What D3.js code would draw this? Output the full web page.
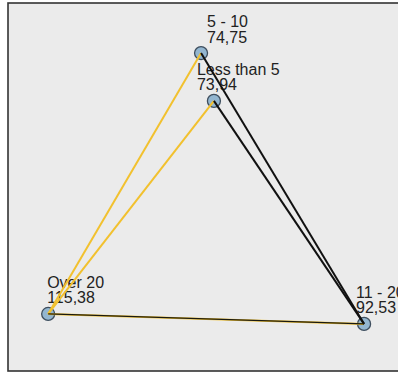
<!DOCTYPE html>
<html>
<head>
<meta charset="utf-8">
<script src="https://cdn.jsdelivr.net/npm/d3@7"></script>
<style>
  html, body { margin: 0; padding: 0; background: #fff; }
  svg { display: block; }
</style>
</head>
<body>
<div id="chart"></div>
<script>
// nodes of the relation map
const categories = ["5 - 10", "Less than 5", "Over 20", "11 - 20"];
const values = ["74,75", "73,94", "115,38", "92,53"];
// node placement on a 0..100 grid
const nodeX = [49.5, 52.8, 10.3, 91.3];
const nodeY = [13.6, 26.6, 84.5, 87.2];
// links between nodes: [from, to, kind]
const links = [
    ["Over 20", "5 - 10", "yellow"],
    ["Over 20", "Less than 5", "yellow"],
    ["Over 20", "11 - 20", "yellow"],
    ["5 - 10", "11 - 20", "black"],
    ["Less than 5", "11 - 20", "black"],
    ["Over 20", "11 - 20", "thin"]
];

const W = 398, H = 374;
const frame = { left: 8, top: 3, right: 420, bottom: 371 };

const svg = d3.select("#chart").append("svg")
    .attr("width", W)
    .attr("height", H);

svg.append("rect")
    .attr("x", frame.left)
    .attr("y", frame.top)
    .attr("width", frame.right - frame.left)
    .attr("height", frame.bottom - frame.top)
    .attr("fill", "#ebebeb")
    .attr("stroke", "#333")
    .attr("stroke-width", 1.6);

const x = d3.scaleLinear().domain([0, 100]).range([frame.left, 398]);
const y = d3.scaleLinear().domain([0, 100]).range([frame.top, frame.bottom]);

const nodes = categories.map((c, i) => ({ name: c, value: values[i], x: nodeX[i], y: nodeY[i] }));
const byName = {};
nodes.forEach(n => byName[n.name] = n);

// label offsets (pixels) relative to node
const labelDx = { "5 - 10": 6, "Less than 5": -17, "Over 20": -1, "11 - 20": -8 };

const lbl = svg.append("g")
    .style("font-family", "'Liberation Sans', Arial, sans-serif")
    .style("font-size", "16px")
    .attr("fill", "#222");

nodes.forEach(n => {
    const t = lbl.append("text")
        .attr("x", x(n.x) + labelDx[n.name])
        .attr("y", y(n.y) - 26);
    t.append("tspan").text(n.name);
    t.append("tspan")
        .attr("x", x(n.x) + labelDx[n.name])
        .attr("dy", 15.5)
        .text(n.value);
});

svg.append("g").selectAll("circle")
    .data(nodes)
    .enter()
    .append("circle")
    .attr("cx", d => x(d.x))
    .attr("cy", d => y(d.y))
    .attr("r", 6.5)
    .attr("fill", "#93b6d0")
    .attr("stroke", "#3e4e5e")
    .attr("stroke-width", 1.3);

const colors = { yellow: "#f2c12e", black: "#111", thin: "#1a1a10" };
const widths = { yellow: 2, black: 2, thin: 1.3 };

svg.append("g").selectAll("line")
    .data(links)
    .enter()
    .append("line")
    .attr("x1", d => x(byName[d[0]].x))
    .attr("y1", d => y(byName[d[0]].y))
    .attr("x2", d => x(byName[d[1]].x))
    .attr("y2", d => y(byName[d[1]].y))
    .attr("stroke", d => colors[d[2]])
    .attr("stroke-width", d => widths[d[2]]);
</script>
</body>
</html>
